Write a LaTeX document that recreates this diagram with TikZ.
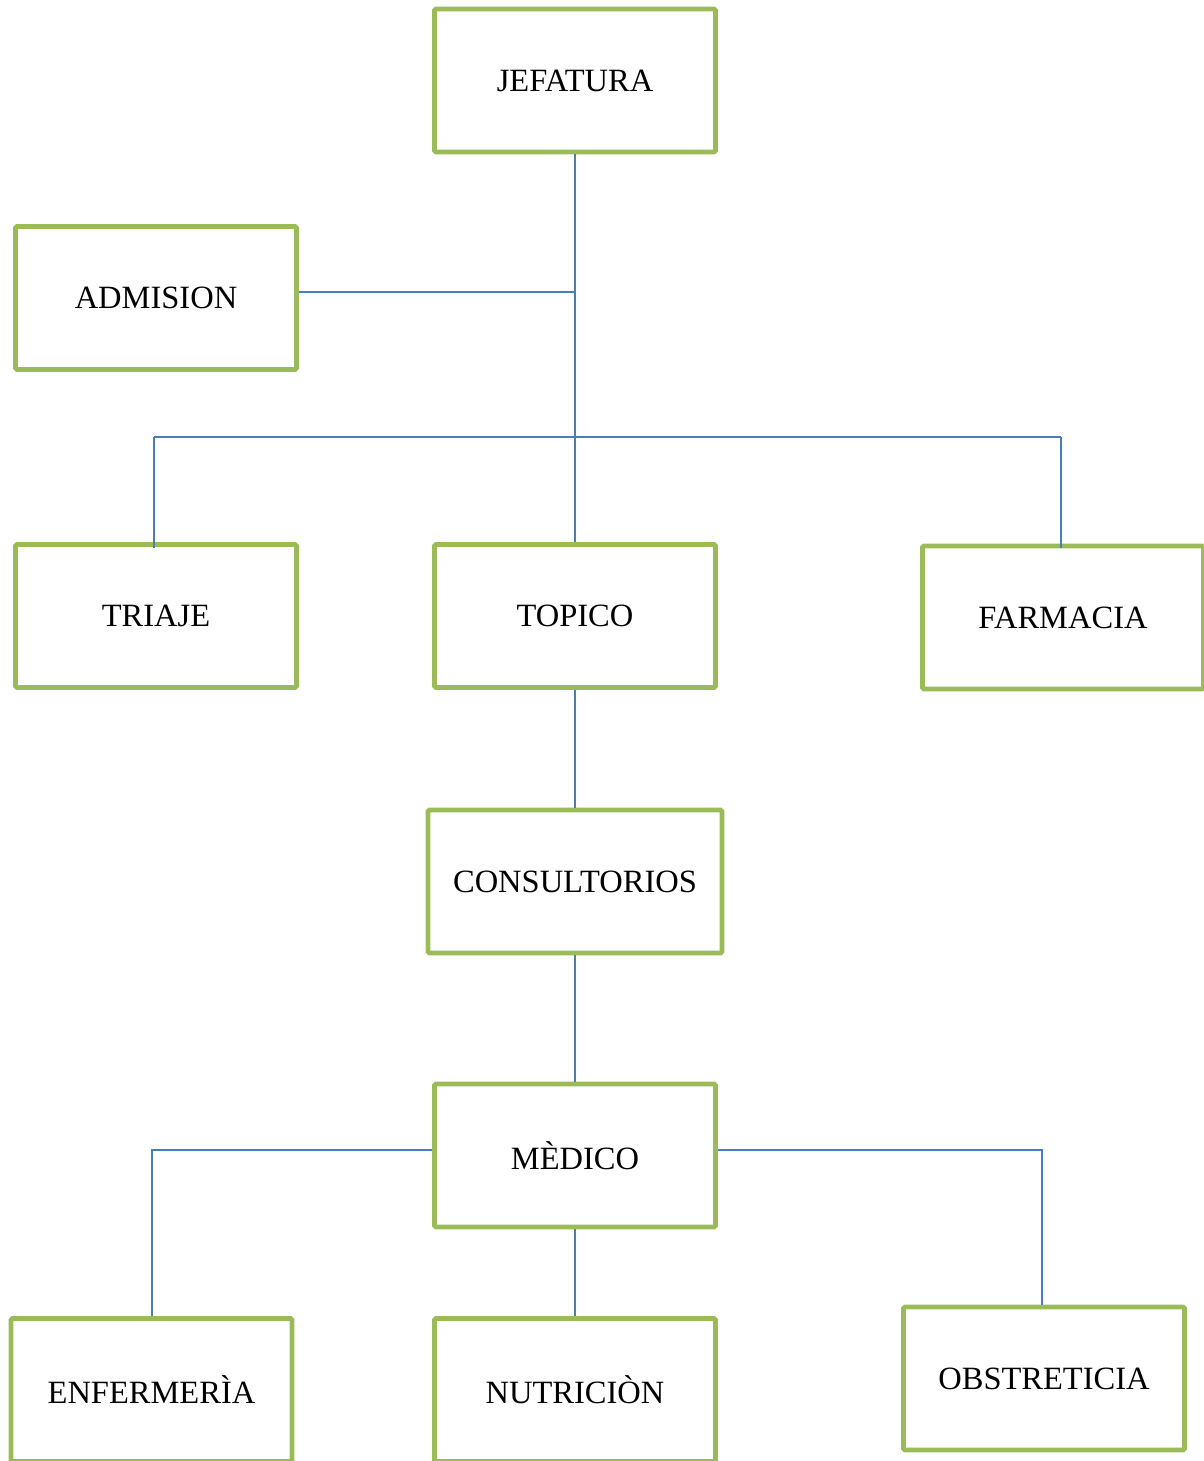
\documentclass[tikz,border=0pt]{standalone}
\usepackage{fontspec}
\setmainfont{Liberation Serif}
\definecolor{boxgreen}{HTML}{9BBB59}
\definecolor{linkblue}{HTML}{4A7EBB}
\begin{document}
\begin{tikzpicture}[x=1pt,y=-1pt,
  unit/.style={draw=boxgreen, line width=4.8pt, rounded corners=1.5pt, fill=none,
    minimum width=281pt, minimum height=143pt, inner sep=0pt,
    font=\fontsize{32.5}{38}\selectfont},
  conn/.style={draw=linkblue, line width=2pt}]
\useasboundingbox (0,0) rectangle (1203,1461);
\node[unit] (jef) at (575,80.5) {JEFATURA};
\node[unit] (adm) at (156,298) {ADMISION};
\node[unit] (tri) at (156,616) {TRIAJE};
\node[unit] (top) at (575,616) {TOPICO};
\node[unit] (far) at (1063,617.5) {FARMACIA};
\node[unit, minimum width=294pt] (con) at (575,881.5) {CONSULTORIOS};
\node[unit] (med) at (575,1155.5) {MÈDICO};
\node[unit] (enf) at (151.5,1390) {ENFERMERÌA};
\node[unit] (nut) at (575,1390) {NUTRICIÒN};
\node[unit] (obs) at (1044,1378.5) {OBSTRETICIA};
% connectors
\coordinate (admJ) at (575,292);
\coordinate (barL) at (154,437);
\coordinate (barR) at (1061,437);
\coordinate (triT) at (154,548);
\coordinate (farT) at (1061,548);
\coordinate (mL) at (152,1150);
\coordinate (mR) at (1042,1150);
\draw[conn] (jef.south) -- (top.north);
\draw[conn] (adm.east |- admJ) -- (admJ);
\draw[conn] (barL) -- (barR);
\draw[conn] (barL) -- (triT);
\draw[conn] (barR) -- (farT);
\draw[conn] (top.south) -- (con.north);
\draw[conn] (con.south) -- (med.north);
\draw[conn] (med.south) -- (nut.north);
\draw[conn] (med.west |- mL) -- (mL) -- (enf.north -| mL);
\draw[conn] (med.east |- mR) -- (mR) -- (obs.north -| mR);
\end{tikzpicture}
\end{document}
